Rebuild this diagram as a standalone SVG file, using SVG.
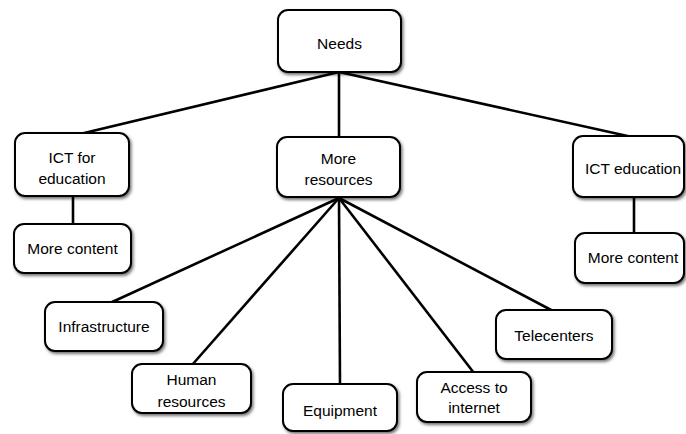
<svg xmlns="http://www.w3.org/2000/svg" width="686" height="434" viewBox="0 0 686 434">
<style>
.box{fill:#fff;stroke:#000;stroke-width:2;filter:url(#sh)}
.t{font-family:"Liberation Sans",Arial,sans-serif;font-size:15.5px;fill:#000;text-anchor:middle}
.c{stroke:#000;stroke-width:2.6;fill:none}
</style>
<defs>
<filter id="sh" x="-10%" y="-10%" width="130%" height="140%">
<feDropShadow dx="1.5" dy="2" stdDeviation="1.5" flood-color="#000" flood-opacity="0.55"/>
</filter>
</defs>
<g id="connectors">
<line class="c" x1="339" y1="72" x2="80" y2="134"/>
<line class="c" x1="339" y1="72" x2="339" y2="138"/>
<line class="c" x1="339" y1="72" x2="632" y2="137"/>
<line class="c" x1="73" y1="196" x2="73" y2="225"/>
<line class="c" x1="634" y1="197" x2="634" y2="234"/>
<line class="c" x1="339" y1="198" x2="110" y2="303"/>
<line class="c" x1="339" y1="198" x2="192" y2="365"/>
<line class="c" x1="339" y1="198" x2="340" y2="385"/>
<line class="c" x1="339" y1="198" x2="474" y2="373"/>
<line class="c" x1="339" y1="198" x2="553" y2="311"/>
</g>
<g id="needs"><rect class="box" x="278" y="10" width="123" height="62" rx="10"/><text class="t" x="339.5" y="49">Needs</text></g>
<g id="ict-for-education"><rect class="box" x="15" y="133" width="114" height="63" rx="10"/><text class="t" x="72" y="163">ICT for</text><text class="t" x="72" y="184">education</text></g>
<g id="more-content-left"><rect class="box" x="14" y="224" width="117" height="49" rx="10"/><text class="t" x="72.5" y="254">More content</text></g>
<g id="more-resources"><rect class="box" x="277" y="137" width="123" height="60" rx="10"/><text class="t" x="338.5" y="164">More</text><text class="t" x="338.5" y="185">resources</text></g>
<g id="ict-education"><rect class="box" x="573" y="136" width="111" height="61" rx="10"/><text class="t" x="633" y="174">ICT education</text></g>
<g id="more-content-right"><rect class="box" x="575" y="233" width="109" height="50" rx="10"/><text class="t" x="633" y="263">More content</text></g>
<g id="infrastructure"><rect class="box" x="45" y="302" width="118" height="49" rx="10"/><text class="t" x="104" y="332">Infrastructure</text></g>
<g id="human-resources"><rect class="box" x="132" y="364" width="119" height="49" rx="10"/><text class="t" x="191.5" y="385">Human</text><text class="t" x="191.5" y="407">resources</text></g>
<g id="equipment"><rect class="box" x="283" y="384" width="114" height="47" rx="10"/><text class="t" x="340" y="416">Equipment</text></g>
<g id="access-to-internet"><rect class="box" x="417" y="372" width="114" height="50" rx="10"/><text class="t" x="474" y="393">Access to</text><text class="t" x="474" y="413">internet</text></g>
<g id="telecenters"><rect class="box" x="496" y="310" width="116" height="49" rx="10"/><text class="t" x="554" y="341">Telecenters</text></g>
</svg>
